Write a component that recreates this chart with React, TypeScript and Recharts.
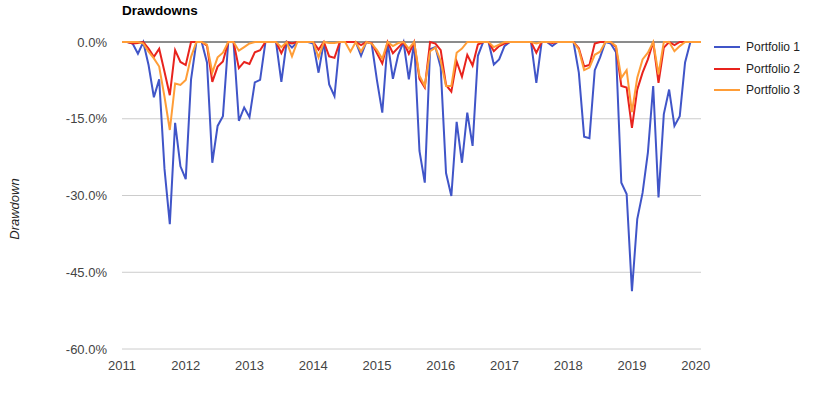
import { LineChart, Line, XAxis, YAxis, CartesianGrid, ReferenceLine } from "recharts";

const years = [2011, 2012, 2013, 2014, 2015, 2016, 2017, 2018, 2019, 2020];
const yTicks = [-60, -45, -30, -15, 0];

// monthly drawdowns (%), Jan 2011 onwards
const portfolio1 = [
    0, 0, -0.3, -2.3, 0, -4.5, -10.8, -7.3, -24.8, -35.6, -15.8, -24.3,
    -26.8, -7.3, 0, 0, -4, -23.6, -16.4, -14.5, 0, 0, -15.4, -12.8,
    -14.7, -7.9, -7.4, 0, 0, 0, -7.8, 0, -1.1, 0, 0, 0,
    -0.3, -6, 0, -8.3, -10.6, 0, 0, 0, 0, -2.7, 0, -0.3,
    -7.5, -13.8, 0, -7.2, -2.5, 0, -7.3, 0, -21.3, -27.5, -1.4, -1,
    -5, -25.6, -30.1, -15.6, -23.6, -13.8, -20.3, -2.7, 0, 0, -4.4, -3.4,
    -0.8, 0, 0, 0, 0, 0, -8, 0, 0, -0.8, 0, 0,
    0, 0, -6, -18.5, -18.8, -5.5, -3, 0, -0.3, -2, -27.5, -29.7,
    -48.7, -34.6, -29.5, -21.6, -8.6, -30.4, -14.1, -9.3, -16.4, -14.5, -4, 0,
    0, 0,
];
const portfolio2 = [
    0, 0, -0.3, -0.2, 0, -1.3, -2.9, -1.3, -5.8, -10.4, -1.6, -3.9,
    -4.5, 0, 0, 0, -0.7, -7.8, -4.8, -3.8, 0, 0, -5.1, -3.9,
    -4.3, -2, -1.6, 0, 0, 0, -2.2, 0, -0.3, 0, 0, 0,
    0, -1.5, 0, -2.8, -3.1, 0, 0, 0, 0, -0.6, 0, -0.2,
    -2.2, -4.2, 0, -2.2, -1.1, 0, -2.3, 0, -7.2, -8.9, 0, -0.3,
    -1.6, -8.4, -9.7, -3.8, -6.8, -2.5, -4.6, -0.5, 0, 0, -1.8, -0.8,
    -0.3, 0, 0, 0, 0, 0, -2.1, 0, 0, -0.2, 0, 0,
    0, 0, -1.2, -4.8, -4.5, -0.3, 0, 0, 0, -1, -8.6, -8.9,
    -16.8, -9.3, -6, -3.4, 0, -8, -1.1, 0, -0.6, 0, 0, 0,
    0, 0,
];
const portfolio3 = [
    0, 0, 0, 0, -0.3, -1.9, -3.2, -4.8, -10.7, -17.2, -8.1, -8.4,
    -7.4, -2.9, 0, 0, -0.5, -6, -3, -2.1, 0, 0, -1.7, -1,
    -0.3, 0, 0, 0, 0, 0, -1, 0, -2.8, 0, 0, 0,
    0, -3, 0, -0.2, -0.2, 0, 0, -1.9, 0, -1.9, 0, -0.3,
    -1.6, -3.3, 0, -0.8, -0.2, 0, -1.3, 0, -6.6, -8.6, -1.8, -1.1,
    -3.7, -8.6, -8.6, -2.1, -1.3, 0, 0, 0, 0, 0, -1, -0.5,
    0, 0, 0, 0, 0, 0, -0.3, 0, 0, 0, 0, 0,
    0, 0, -1.5, -5.5, -5, -2.5, -1.9, 0, 0, -0.8, -7, -5.5,
    -13.7, -7, -3.4, -2.1, 0, -6.3, 0, 0, -1.8, -0.8, 0, 0,
    0, 0,
];

const data = portfolio1.map((v, i) => ({
    t: 2011 + i / 12,
    p1: v,
    p2: portfolio2[i],
    p3: portfolio3[i],
}));

const series = [
    { key: "p1", name: "Portfolio 1", color: "#4055C8" },
    { key: "p2", name: "Portfolio 2", color: "#E8231D" },
    { key: "p3", name: "Portfolio 3", color: "#FF9D37" },
];

const font = "Arial, 'Liberation Sans', sans-serif";

export default function App() {
    return (
        <div style={{ position: "absolute", left: 0, top: 0, width: 815, height: 398, fontFamily: font }}>
            <div style={{ position: "absolute", left: 122, top: 3, fontSize: 13.5, fontWeight: "bold", color: "#000" }}>
                Drawdowns
            </div>
            <div
                style={{
                    position: "absolute",
                    left: 14,
                    top: 209,
                    transform: "translate(-50%, -50%) rotate(-90deg)",
                    fontSize: 13,
                    fontStyle: "italic",
                    color: "#222",
                    whiteSpace: "nowrap",
                }}
            >
                Drawdown
            </div>
            <LineChart
                width={815}
                height={398}
                data={data}
                margin={{ top: 42, right: 114, bottom: 0, left: 0 }}
            >
                <CartesianGrid vertical={false} stroke="#cccccc" />
                <XAxis
                    dataKey="t"
                    type="number"
                    domain={["dataMin", "dataMax"]}
                    ticks={years}
                    tickFormatter={(v) => String(Math.round(v))}
                    axisLine={false}
                    tickLine={false}
                    height={49}
                    tick={{ fill: "#444", fontSize: 13, fontFamily: font }}
                    tickMargin={6}
                    interval={0}
                />
                <YAxis
                    type="number"
                    domain={[-60, 0]}
                    ticks={yTicks}
                    tickFormatter={(v) => v.toFixed(1) + "%"}
                    axisLine={false}
                    tickLine={false}
                    width={122}
                    tick={{ fill: "#444", fontSize: 13, fontFamily: font }}
                    tickMargin={9}
                />
                <ReferenceLine y={0} stroke="#333" strokeWidth={1} />
                {series.map((s) => (
                    <Line
                        key={s.key}
                        type="linear"
                        dataKey={s.key}
                        name={s.name}
                        stroke={s.color}
                        strokeWidth={2}
                        dot={false}
                        isAnimationActive={false}
                    />
                ))}
            </LineChart>
            {series.map((s, i) => (
                <div
                    key={s.key}
                    style={{ position: "absolute", left: 714, top: 39 + i * 21.7, height: 16, display: "flex", alignItems: "center" }}
                >
                    <div style={{ width: 26, height: 2, background: s.color }} />
                    <span style={{ marginLeft: 6, fontSize: 12, color: "#222" }}>{s.name}</span>
                </div>
            ))}
        </div>
    );
}
